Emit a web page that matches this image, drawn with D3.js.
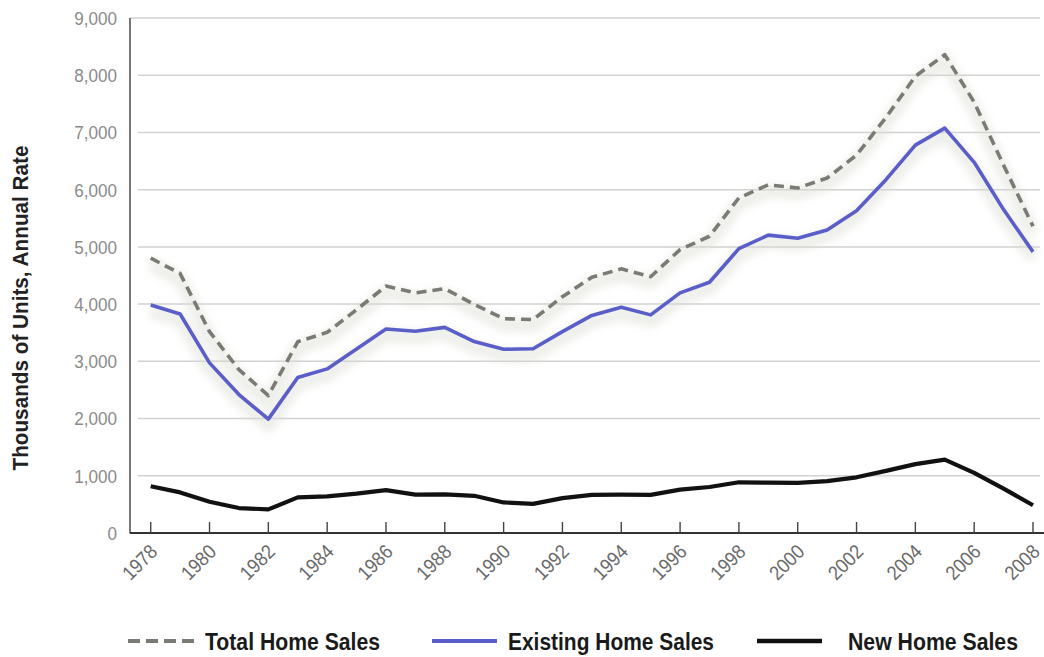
<!DOCTYPE html>
<html>
<head>
<meta charset="utf-8">
<script src="https://cdn.jsdelivr.net/npm/d3@7/dist/d3.min.js"></script>
<style>
  html, body { margin: 0; padding: 0; background: #fff; }
  svg { display: block; }
  text { font-family: "Liberation Sans", Arial, sans-serif; }
</style>
</head>
<body>
<svg id="chart" width="1044" height="657"></svg>
<script>
const years = d3.range(1978, 2009);
const totalSales = [4803, 4536, 3518, 2855, 2402, 3342, 3507, 3902, 4315, 4197, 4270, 3996, 3745, 3729, 4130, 4468, 4616, 4479, 4953, 5186, 5856, 6085, 6029, 6204, 6604, 7261, 7981, 8359, 7529, 6428, 5360];
const existingSales = [3986, 3827, 2973, 2419, 1990, 2719, 2868, 3214, 3565, 3526, 3594, 3346, 3211, 3220, 3520, 3802, 3946, 3812, 4196, 4382, 4970, 5205, 5152, 5296, 5631, 6175, 6778, 7076, 6478, 5652, 4913];
const newSales = [817, 709, 545, 436, 412, 623, 639, 688, 750, 671, 676, 650, 534, 509, 610, 666, 670, 667, 757, 804, 886, 880, 877, 908, 973, 1086, 1203, 1283, 1051, 776, 485];
const yTicks = [0, 1000, 2000, 3000, 4000, 5000, 6000, 7000, 8000, 9000];
const xTicks = d3.range(1978, 2009, 2);
const seriesNames = ["Total Home Sales", "Existing Home Sales", "New Home Sales"];
const yTitle = "Thousands of Units, Annual Rate";

const svg = d3.select("#chart");
const x = d3.scaleLinear().domain([1978, 2008]).range([150.7, 1033]);
const y = d3.scaleLinear().domain([0, 9000]).range([533, 18]);
const axisLeftX = 130, axisRightX = 1044;

const defs = svg.append("defs");
defs.append("filter").attr("id", "soft").attr("x", "-10%").attr("y", "-20%").attr("width", "120%").attr("height", "140%")
  .append("feGaussianBlur").attr("stdDeviation", 5);

// gridlines
svg.append("g").selectAll("line").data(yTicks.filter(d => d > 0)).join("line")
  .attr("x1", d => d === 9000 ? axisLeftX : 138).attr("x2", 1040)
  .attr("y1", d => y(d)).attr("y2", d => y(d))
  .attr("stroke", "#d2d2d2").attr("stroke-width", 1.5);

// y tick labels (condensed look)
svg.append("g").selectAll("text").data(yTicks).join("text")
  .attr("transform", d => `translate(117,${y(d)}) scale(0.9,1)`)
  .attr("dy", "0.36em")
  .attr("text-anchor", "end").attr("font-size", 19).attr("fill", "#8a8a8a")
  .text(d => d3.format(",")(d));

// y axis line
svg.append("line").attr("x1", axisLeftX).attr("x2", axisLeftX).attr("y1", y(9000)).attr("y2", y(0) + 0.5)
  .attr("stroke", "#555").attr("stroke-width", 1.6);

// y title
svg.append("text")
  .attr("transform", `translate(28,${308}) rotate(-90)`)
  .attr("text-anchor", "middle").attr("font-size", 22).attr("font-weight", "bold").attr("fill", "#222")
  .attr("textLength", 325).attr("lengthAdjust", "spacingAndGlyphs")
  .text(yTitle);

// lines
const seriesData = [
  { name: seriesNames[0], values: totalSales, color: "#7b7b73", width: 3.6, dash: "10,6" },
  { name: seriesNames[1], values: existingSales, color: "#5a5ec9", width: 3.6, dash: null },
  { name: seriesNames[2], values: newSales, color: "#111111", width: 4.2, dash: null }
];
const line = d3.line().x((d, i) => x(years[i])).y(d => y(d));

// soft halo
svg.append("g").selectAll("path").data(seriesData.slice(0, 2)).join("path")
  .attr("d", d => line(d.values)).attr("fill", "none")
  .attr("stroke", "#d8dcd0").attr("stroke-width", 12).attr("opacity", 0.5)
  .attr("transform", "translate(0,6)").attr("filter", "url(#soft)");

svg.append("g").selectAll("path").data(seriesData).join("path")
  .attr("d", d => line(d.values)).attr("fill", "none")
  .attr("stroke", d => d.color).attr("stroke-width", d => d.width)
  .attr("stroke-dasharray", d => d.dash)
  .attr("stroke-linejoin", "round");

// x axis
svg.append("line").attr("x1", axisLeftX).attr("x2", axisRightX).attr("y1", y(0)).attr("y2", y(0))
  .attr("stroke", "#333").attr("stroke-width", 1.8);
svg.append("g").selectAll("line").data(xTicks).join("line")
  .attr("x1", d => x(d)).attr("x2", d => x(d)).attr("y1", y(0)).attr("y2", y(0) - 11)
  .attr("stroke", "#444").attr("stroke-width", 1.4);
svg.append("g").selectAll("text").data(xTicks).join("text")
  .attr("transform", d => `translate(${x(d) + 8},${y(0) + 20}) rotate(-45) scale(0.9,1)`)
  .attr("text-anchor", "end").attr("font-size", 20).attr("fill", "#6a6a6a")
  .text(d => d);

// legend
const legendItems = [
  { s: seriesData[0], x1: 128, x2: 195, tx: 205, w: 175 },
  { s: seriesData[1], x1: 432, x2: 497, tx: 508, w: 206 },
  { s: seriesData[2], x1: 757, x2: 822, tx: 848, w: 170 }
];
const lg = svg.append("g");
lg.selectAll("line").data(legendItems).join("line")
  .attr("x1", d => d.x1).attr("x2", d => d.x2).attr("y1", 641).attr("y2", 641)
  .attr("stroke", d => d.s.color).attr("stroke-width", d => d.s.width + 0.4)
  .attr("stroke-dasharray", d => d.s.dash ? "12,6" : null);
lg.selectAll("text").data(legendItems).join("text")
  .attr("x", d => d.tx).attr("y", 650)
  .attr("font-size", 23).attr("font-weight", "bold").attr("fill", "#1a1a1a")
  .attr("textLength", d => d.w).attr("lengthAdjust", "spacingAndGlyphs")
  .text(d => d.s.name);
</script>
</body>
</html>
